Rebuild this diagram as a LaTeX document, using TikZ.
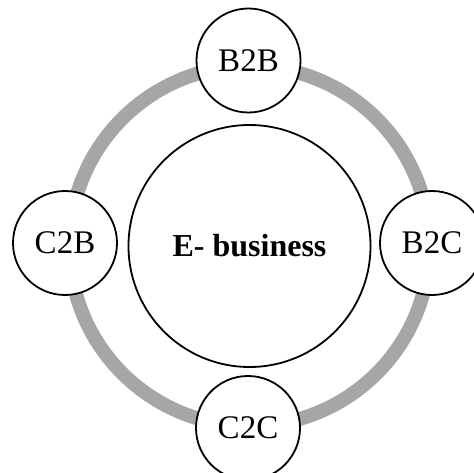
\documentclass[tikz,border=0pt]{standalone}
\usepackage{fontspec}
\setmainfont{Liberation Serif}
\definecolor{ringgray}{HTML}{A6A6A6}
\begin{document}
\begin{tikzpicture}[x=1pt,y=-1pt,
  bubble/.style={circle,draw=black,line width=1.8pt,fill=white,minimum size=104pt,inner sep=0pt,font=\fontsize{33}{33}\selectfont},
  hub/.style={circle,draw=black,line width=1.8pt,fill=white,minimum size=242pt,inner sep=0pt,font=\fontsize{32}{32}\selectfont\bfseries},
  ring/.style={draw=ringgray,line width=14pt}]
\useasboundingbox (0,0) rectangle (474,473);
\coordinate (o) at (249.5,246);
\draw[ring] (o) circle (180);
\node[hub] (eb) at (o) {E- business};
\node[bubble] (b2b) at (248.5,60.5) {B2B};
\node[bubble] (c2b) at (65,243) {C2B};
\node[bubble] (b2c) at (432,243) {B2C};
\node[bubble] (c2c) at (248,428) {C2C};
\end{tikzpicture}
\end{document}
